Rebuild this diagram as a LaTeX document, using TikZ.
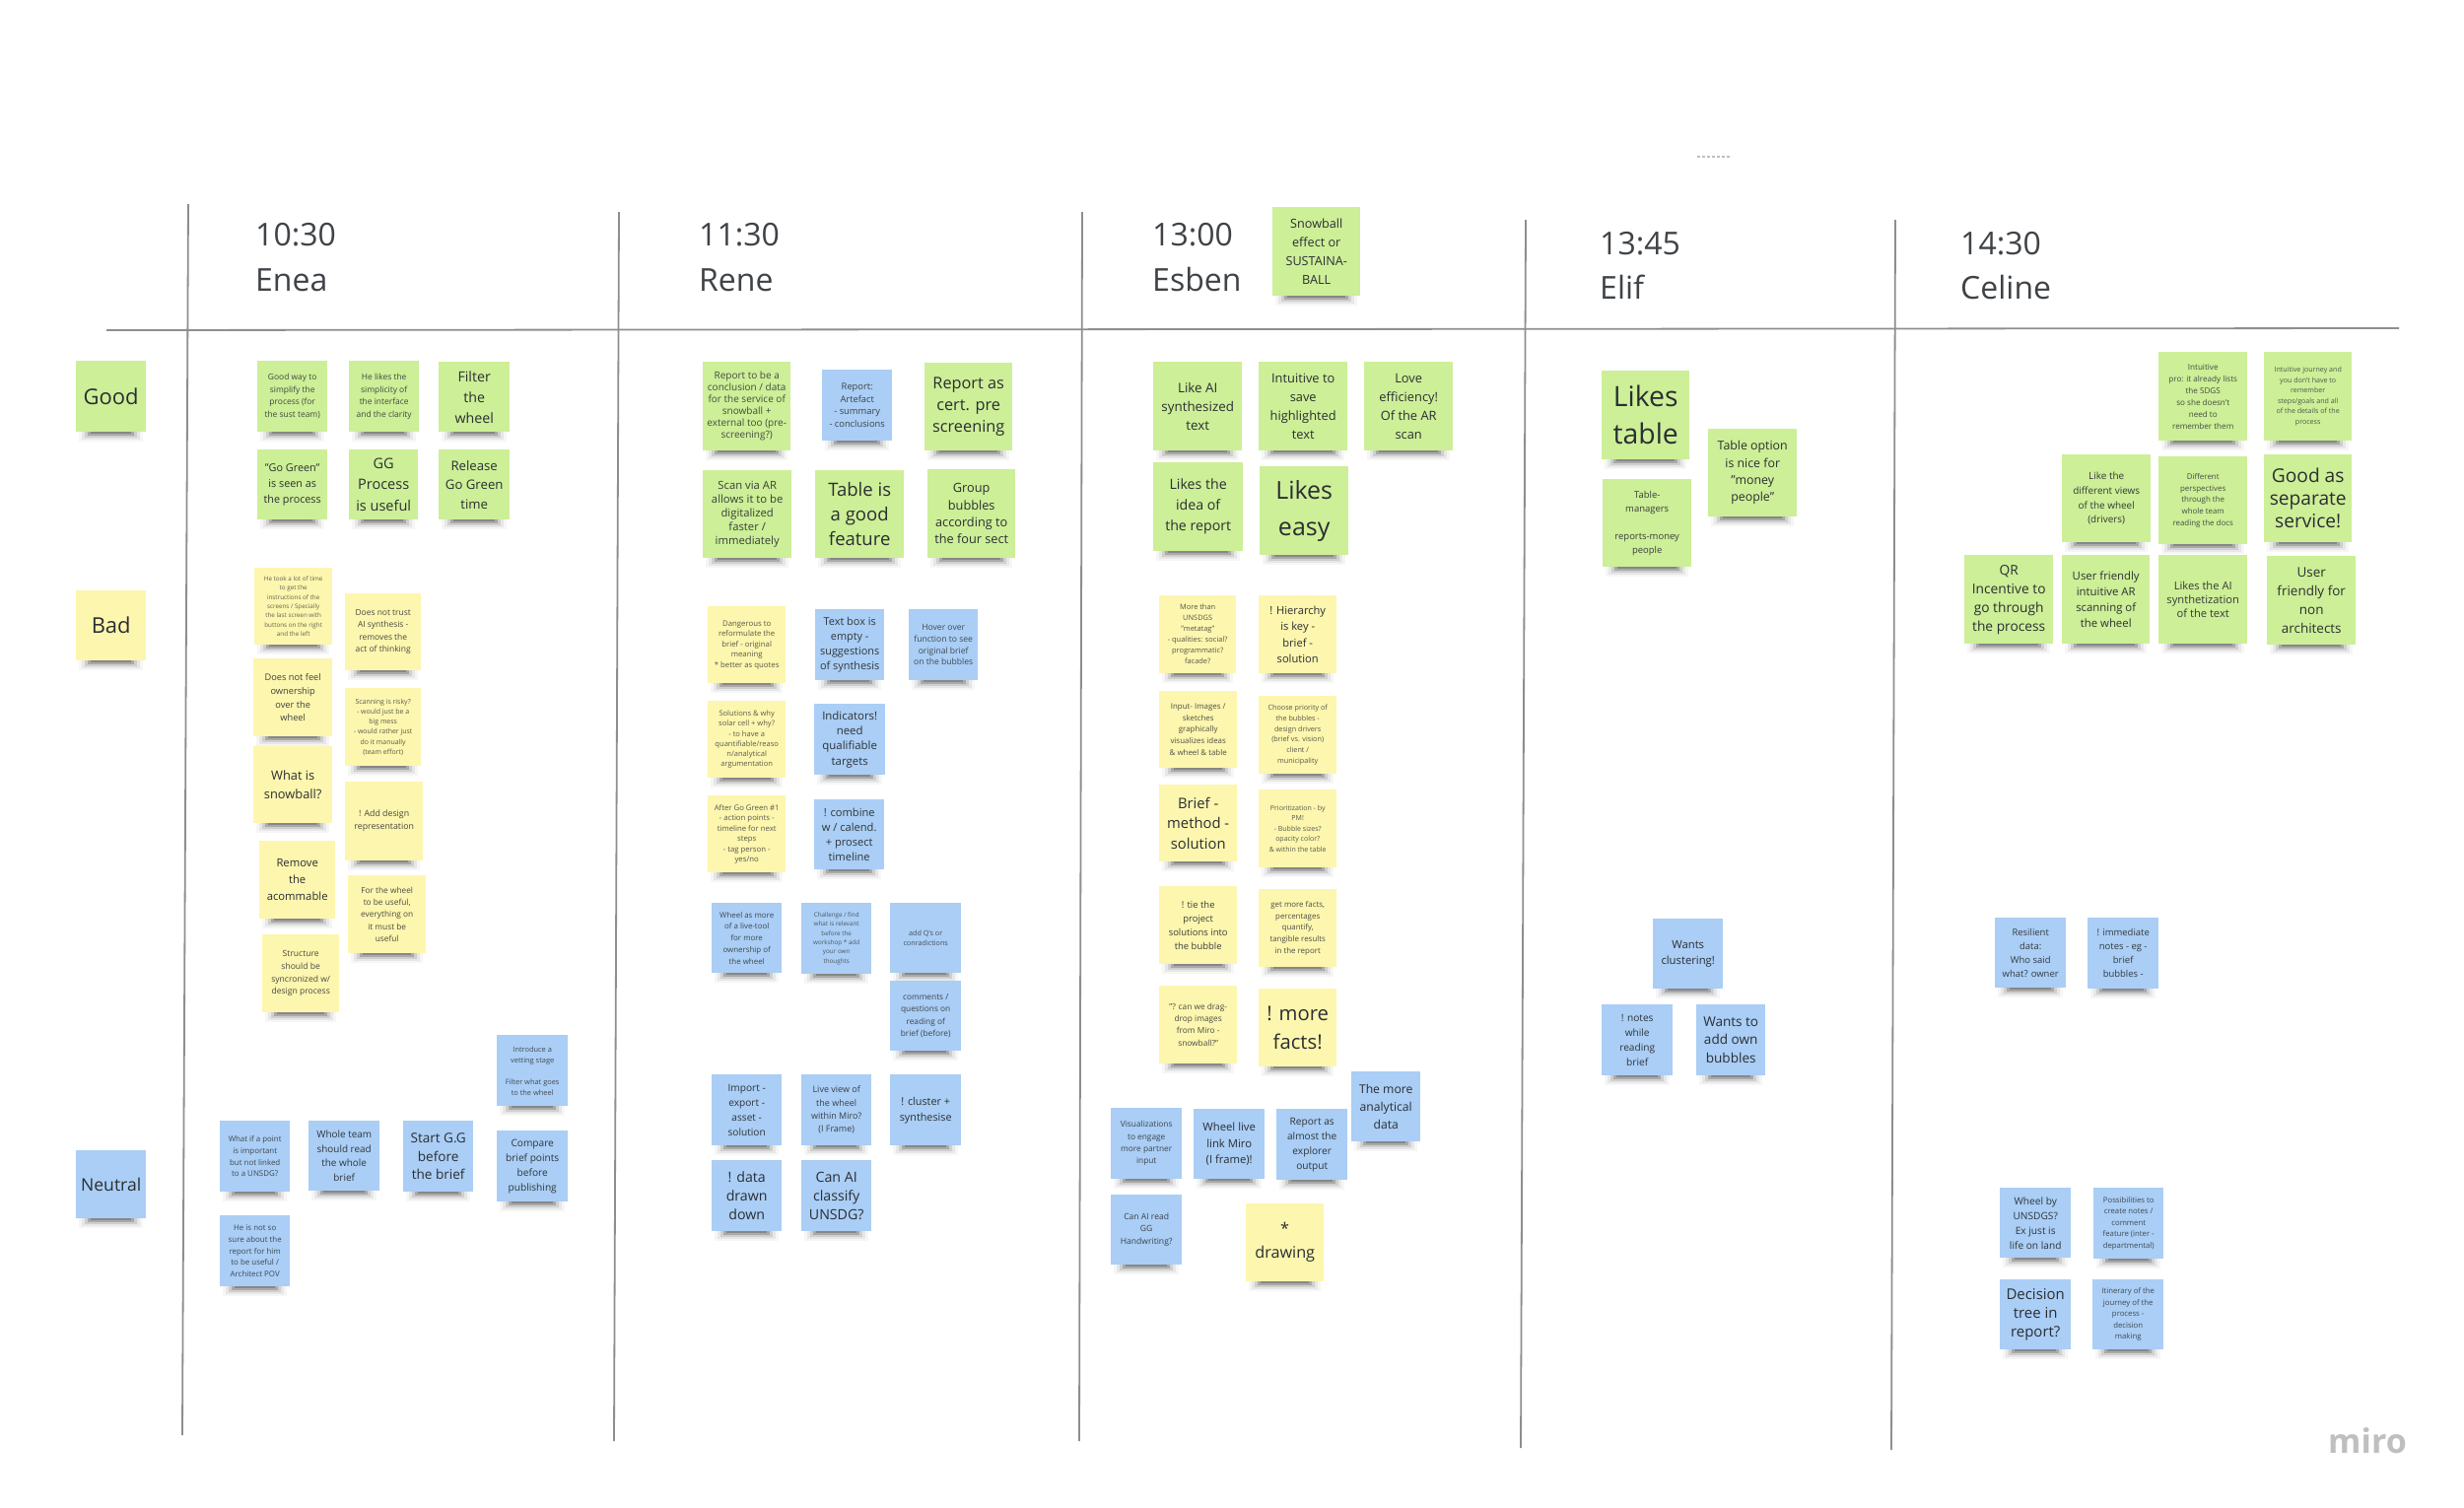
\documentclass[tikz,border=0pt]{standalone}
\usepackage{fontspec}
\setmainfont{Open Sans}
\definecolor{gnote}{HTML}{CDEF97}
\definecolor{ynote}{HTML}{FDF6AE}
\definecolor{bnote}{HTML}{AACEF5}
\definecolor{gridline}{HTML}{8E8E8E}
\definecolor{inktext}{HTML}{2A2E33}
\tikzset{
  stickyg/.style={fill=gnote},
  stickyy/.style={fill=ynote},
  stickyb/.style={fill=bnote},
  gridrule/.style={draw=gridline,line width=1.8pt},
  headtext/.style={anchor=base west,inner sep=0pt,text=inktext!90,font=\fontsize{32}{42}\selectfont},
}
\def\stkr{1.48}
\newcommand{\sticky}[8]{%
  \fill[black,opacity=.035] (#2+3,#5) rectangle (#4-3,#5+10);
  \fill[black,opacity=.06] (#2+6,#5) rectangle (#4-6,#5+8);
  \fill[black,opacity=.10] (#2+9,#5) rectangle (#4-9,#5+6);
  \fill[black,opacity=.18] (#2+12,#5) rectangle (#4-12,#5+4);
  \fill[black,opacity=.20] (#2+15,#5) rectangle (#4-15,#5+2);
  \pgfmathsetmacro{\stkop}{min(1,0.38+#7/26)}%
  \pgfmathsetmacro{\stkfs}{#7/\stkr}%
  \pgfmathsetmacro{\stkw}{#4-#2}%
  \pgfmathsetmacro{\stkh}{#5-#3}%
  \node[#6,anchor=north west,inner sep=0pt,align=center,text=inktext,text opacity=\stkop,
        minimum width=\stkw pt,minimum height=\stkh pt,
        font=\fontsize{\stkfs pt}{#7pt}\selectfont] (#1) at (#2,#3) {#8};
}
\begin{document}
\begin{tikzpicture}[x=1pt,y=-1pt]
\useasboundingbox (0,0) rectangle (2500,1529);
\fill[white] (0,0) rectangle (2500,1529);
% grid
\coordinate (v1a) at (191,207); \coordinate (v1b) at (185,1456);
\coordinate (v2a) at (628,215); \coordinate (v2b) at (623,1462);
\coordinate (v3a) at (1098,215); \coordinate (v3b) at (1095,1462);
\coordinate (v4a) at (1548,223); \coordinate (v4b) at (1543,1469);
\coordinate (v5a) at (1923,223); \coordinate (v5b) at (1919,1471);
\coordinate (ha) at (108,335); \coordinate (hb) at (2434,333);
\coordinate (ta) at (1722,159); \coordinate (tb) at (1757,159);
\draw[gridrule] (v1a) -- (v1b);
\draw[gridrule] (v2a) -- (v2b);
\draw[gridrule] (v3a) -- (v3b);
\draw[gridrule] (v4a) -- (v4b);
\draw[gridrule] (v5a) -- (v5b);
\draw[gridrule] (ha) -- (hb);
\draw[black!25,line width=1.5pt,dash pattern=on 3pt off 2pt] (ta) -- (tb);
% headers
\node[headtext] (t1a) at (259,249) {10:30};
\node[headtext] (t1b) at (259,295) {Enea};
\node[headtext] (t2a) at (709,249) {11:30};
\node[headtext] (t2b) at (709,295) {Rene};
\node[headtext] (t3a) at (1169,249) {13:00};
\node[headtext] (t3b) at (1169,295) {Esben};
\node[headtext] (t4a) at (1623,258) {13:45};
\node[headtext] (t4b) at (1623,303) {Elif};
\node[headtext] (t5a) at (1989,258) {14:30};
\node[headtext] (t5b) at (1989,303) {Celine};
% row labels
\sticky{good}{77}{366}{148}{438}{stickyg}{32.5}{Good}
\sticky{bad}{77}{599}{148}{670}{stickyy}{32.5}{Bad}
\sticky{neutral}{77}{1167}{148}{1236}{stickyb}{26}{Neutral}
% Enea
\sticky{e1}{261}{366}{332}{438}{stickyg}{12.5}{Good way to\\simplify the\\process (for\\the sust team)}
\sticky{e2}{354}{366}{425}{438}{stickyg}{12.5}{He likes the\\simplicity of\\the interface\\and the clarity}
\sticky{e3}{445}{367}{517}{438}{stickyg}{21}{Filter\\the\\wheel}
\sticky{e4}{261}{456}{332}{527}{stickyg}{16}{"Go Green"\\is seen as\\the process}
\sticky{e5}{354}{456}{424}{527}{stickyg}{21.5}{GG\\Process\\is useful}
\sticky{e6}{445}{456}{517}{527}{stickyg}{19.5}{Release\\Go Green\\time}
\sticky{e7}{258}{576}{337}{654}{stickyy}{9.3}{He took a lot of time\\to get the\\instructions of the\\screens / Specially\\the last screen with\\buttons on the right\\and the left}
\sticky{e8}{257}{668}{337}{747}{stickyy}{13.7}{Does not feel\\ownership\\over the\\wheel}
\sticky{e9}{257}{757}{337}{835}{stickyy}{19}{What is\\snowball?}
\sticky{e10}{263}{853}{340}{932}{stickyy}{16.7}{Remove\\the\\acommable}
\sticky{e11}{266}{948}{344}{1027}{stickyy}{12.7}{Structure\\should be\\syncronized w/\\design process}
\sticky{e12}{350}{602}{427}{680}{stickyy}{12.5}{Does not trust\\AI synthesis -\\removes the\\act of thinking}
\sticky{e13}{350}{698}{427}{777}{stickyy}{10.3}{Scanning is risky?\\- would just be a\\big mess\\- would rather just\\do it manually\\(team effort)}
\sticky{e14}{350}{793}{429}{873}{stickyy}{13}{! Add design\\representation}
\sticky{e15}{353}{888}{432}{967}{stickyy}{12.3}{For the wheel\\to be useful,\\everything on\\it must be\\useful}
\sticky{e16}{504}{1050}{576}{1122}{stickyb}{11}{Introduce a\\vetting stage\\[\baselineskip]Filter what goes\\to the wheel}
\sticky{e17}{504}{1147}{576}{1219}{stickyb}{15}{Compare\\brief points\\before\\publishing}
\sticky{e18}{223}{1137}{294}{1209}{stickyb}{11.7}{What if a point\\is important\\but not linked\\to a UNSDG?}
\sticky{e19}{313}{1137}{385}{1208}{stickyb}{14.7}{Whole team\\should read\\the whole\\brief}
\def\stkr{1.38}
\sticky{e20}{409}{1137}{480}{1209}{stickyb}{18.7}{Start G.G\\before\\the brief}
\def\stkr{1.48}
\sticky{e21}{223}{1233}{294}{1305}{stickyb}{11.7}{He is not so\\sure about the\\report for him\\to be useful /\\Architect POV}
% Rene
\def\stkr{1.2}
\sticky{r1}{713}{367}{802}{457}{stickyg}{12}{Report to be a\\conclusion / data\\for the service of\\snowball +\\external too  (pre-\\screening?)}
\def\stkr{1.35}
\sticky{r2}{834}{375}{905}{447}{stickyb}{12.6}{Report:\\Artefact\\- summary\\- conclusions}
\sticky{r3}{938}{368}{1027}{457}{stickyg}{22}{Report as\\cert. pre\\screening}
\def\stkr{1.24}
\sticky{r4}{713}{477}{803}{566}{stickyg}{14}{Scan via AR\\allows it to be\\digitalized\\faster /\\immediately}
\def\stkr{1.35}
\sticky{r5}{827}{477}{917}{566}{stickyg}{25}{Table is\\a good\\feature}
\sticky{r6}{941}{476}{1030}{566}{stickyg}{17.2}{Group\\bubbles\\according to\\the four sect}
\sticky{r7}{718}{615}{797}{693}{stickyy}{10.5}{Dangerous to\\reformulate the\\brief - original\\meaning\\* better as quotes}
\sticky{r8}{827}{618}{897}{690}{stickyb}{14.7}{Text box is\\empty -\\suggestions\\of synthesis}
\sticky{r9}{922}{618}{992}{690}{stickyb}{11.6}{Hover over\\function to see\\original brief\\on the bubbles}
\sticky{r10}{718}{711}{797}{789}{stickyy}{10.2}{Solutions \& why\\solar cell + why?\\- to have a\\quantifiable/reaso\\n/analytical\\argumentation}
\sticky{r11}{826}{714}{898}{786}{stickyb}{15.4}{Indicators!\\need\\qualifiable\\targets}
\sticky{r12}{718}{807}{797}{885}{stickyy}{10.5}{After Go Green \#1\\- action points -\\timeline for next\\steps\\- tag person -\\yes/no}
\sticky{r13}{826}{811}{897}{882}{stickyb}{15}{! combine\\w / calend.\\+ prosect\\timeline}
\def\stkr{1.48}
\sticky{r14}{722}{916}{793}{987}{stickyb}{11.7}{Wheel as more\\of a live-tool\\for more\\ownership of\\the wheel}
\sticky{r15}{813}{916}{884}{988}{stickyb}{9.3}{Challenge / find\\what is relevant\\before the\\workshop * add\\your own\\thoughts}
\sticky{r16}{903}{916}{975}{987}{stickyb}{10.7}{add Q's or\\conradictions}
\sticky{r17}{903}{995}{975}{1066}{stickyb}{12.3}{comments /\\questions on\\reading of\\brief (before)}
\sticky{r18}{722}{1090}{793}{1162}{stickyb}{15}{Import -\\export -\\asset -\\solution}
\sticky{r19}{813}{1090}{884}{1162}{stickyb}{13.3}{Live view of\\the wheel\\within Miro?\\(I Frame)}
\sticky{r20}{903}{1090}{975}{1162}{stickyb}{16}{! cluster +\\synthesise}
\def\stkr{1.34}
\sticky{r21}{722}{1177}{793}{1249}{stickyb}{19}{! data\\drawn\\down}
\sticky{r22}{813}{1177}{884}{1249}{stickyb}{19}{Can AI\\classify\\UNSDG?}
\def\stkr{1.48}
% Esben
\sticky{s0}{1291}{210}{1380}{300}{stickyg}{18.7}{Snowball\\effect or\\SUSTAINA-\\BALL}
\def\stkr{1.42}
\sticky{s1}{1170}{367}{1260}{457}{stickyg}{19}{Like AI\\synthesized\\text}
\def\stkr{1.48}
\sticky{s2}{1277}{367}{1367}{457}{stickyg}{19}{Intuitive to\\save\\highlighted\\text}
\sticky{s3}{1384}{367}{1474}{457}{stickyg}{19}{Love\\efficiency!\\Of the AR\\scan}
\sticky{s4}{1170}{469}{1261}{559}{stickyg}{21}{Likes the\\idea of\\the report}
\sticky{s5}{1278}{473}{1368}{563}{stickyg}{37}{Likes\\easy}
\sticky{s6}{1176}{604}{1254}{683}{stickyy}{11}{More than\\UNSDGS\\"metatag"\\- qualities: social?\\programmatic?\\facade?}
\sticky{s7}{1277}{604}{1356}{683}{stickyy}{16.5}{! Hierarchy\\is key -\\brief -\\solution}
\sticky{s8}{1176}{701}{1255}{779}{stickyy}{11.7}{Input- Images /\\sketches\\graphically\\visualizes ideas\\\& wheel \& table}
\sticky{s9}{1277}{706}{1356}{785}{stickyy}{10.7}{Choose priority of\\the bubbles -\\design drivers\\(brief vs. vision)\\client /\\municipality}
\def\stkr{1.4}
\sticky{s10}{1176}{796}{1255}{874}{stickyy}{20.7}{Brief -\\method -\\solution}
\def\stkr{1.48}
\sticky{s11}{1277}{801}{1356}{880}{stickyy}{10.4}{Prioritization - by\\PM!\\- Bubble sizes?\\opacity color?\\\& within the table}
\sticky{s12}{1176}{899}{1255}{978}{stickyy}{14}{! tie the\\project\\solutions into\\the bubble}
\sticky{s13}{1277}{902}{1356}{981}{stickyy}{11.7}{get more facts,\\percentages\\quantify,\\tangible results\\in the report}
\sticky{s14}{1176}{1000}{1255}{1079}{stickyy}{12.3}{"? can we drag-\\drop images\\from Miro -\\snowball?"}
\def\stkr{1.43}
\sticky{s15}{1277}{1003}{1356}{1082}{stickyy}{29}{! more\\facts!}
\def\stkr{1.48}
\sticky{s16}{1371}{1087}{1441}{1158}{stickyb}{18}{The more\\analytical\\data}
\sticky{s17}{1127}{1124}{1199}{1196}{stickyb}{12.3}{Visualizations\\to engage\\more partner\\input}
\sticky{s18}{1211}{1125}{1283}{1196}{stickyb}{16.7}{Wheel live\\link Miro\\(I frame)!}
\sticky{s19}{1295}{1125}{1367}{1197}{stickyb}{15}{Report as\\almost the\\explorer\\output}
\sticky{s20}{1127}{1212}{1199}{1283}{stickyb}{12.7}{Can AI read\\GG\\Handwriting?}
\sticky{s21}{1264}{1221}{1343}{1300}{stickyy}{24}{*\\drawing}
% Elif
\def\stkr{1.34}
\sticky{l1}{1625}{376}{1714}{466}{stickyg}{38}{Likes\\table}
\def\stkr{1.48}
\sticky{l2}{1626}{486}{1716}{575}{stickyg}{14}{Table-\\managers\\[\baselineskip]reports-money\\people}
\def\stkr{1.4}
\sticky{l3}{1733}{435}{1823}{524}{stickyg}{17.3}{Table option\\is nice for\\"money\\people"}
\def\stkr{1.48}
\sticky{l4}{1677}{932}{1748}{1003}{stickyb}{16.7}{Wants\\clustering!}
\sticky{l5}{1625}{1019}{1697}{1091}{stickyb}{15}{! notes\\while\\reading\\brief}
\def\stkr{1.35}
\sticky{l6}{1721}{1019}{1791}{1091}{stickyb}{18.3}{Wants to\\add own\\bubbles}
\def\stkr{1.48}
% Celine
\sticky{c1}{2190}{357}{2280}{447}{stickyg}{12}{Intuitive\\pro: it already lists\\the SDGS\\so she doesn't\\need to\\remember them}
\sticky{c2}{2297}{357}{2386}{447}{stickyg}{10.5}{Intuitive journey and\\you don't have to\\remember\\steps/goals and all\\of the details of the\\process}
\sticky{c3}{2092}{461}{2182}{550}{stickyg}{14.7}{Like the\\different views\\of the wheel\\(drivers)}
\sticky{c4}{2190}{463}{2280}{552}{stickyg}{11.7}{Different\\perspectives\\through the\\whole team\\reading the docs}
\def\stkr{1.2}
\sticky{c5}{2297}{461}{2386}{550}{stickyg}{23}{Good as\\separate\\service!}
\def\stkr{1.38}
\sticky{c6}{1993}{563}{2083}{653}{stickyg}{19}{QR\\Incentive to\\go through\\the process}
\sticky{c7}{2092}{563}{2181}{653}{stickyg}{15.7}{User friendly\\intuitive AR\\scanning of\\the wheel}
\def\stkr{1.28}
\sticky{c8}{2190}{563}{2280}{653}{stickyg}{14.3}{Likes the AI\\synthetization\\of the text}
\def\stkr{1.41}
\sticky{c9}{2300}{564}{2390}{654}{stickyg}{19}{User\\friendly for\\non\\architects}
\def\stkr{1.48}
\sticky{c10}{2024}{931}{2096}{1002}{stickyb}{14}{Resilient\\data:\\Who said\\what? owner}
\sticky{c11}{2118}{931}{2190}{1003}{stickyb}{14}{! immediate\\notes - eg -\\brief\\bubbles -}
\sticky{c12}{2029}{1205}{2101}{1276}{stickyb}{15}{Wheel by\\UNSDGS?\\Ex just is\\life on land}
\sticky{c13}{2124}{1205}{2195}{1277}{stickyb}{11.5}{Possibilities to\\create notes /\\comment\\feature (inter -\\departmental)}
\def\stkr{1.29}
\sticky{c14}{2029}{1298}{2101}{1369}{stickyb}{19.3}{Decision\\tree in\\report?}
\def\stkr{1.48}
\sticky{c15}{2123}{1298}{2195}{1369}{stickyb}{11.5}{Itinerary of the\\journey of the\\process -\\decision\\making}
% logo
\node[inner sep=0pt,text=black!25,font=\fontsize{34}{40}\selectfont\bfseries] (miro) at (2402,1462) {miro};
\end{tikzpicture}
\end{document}
